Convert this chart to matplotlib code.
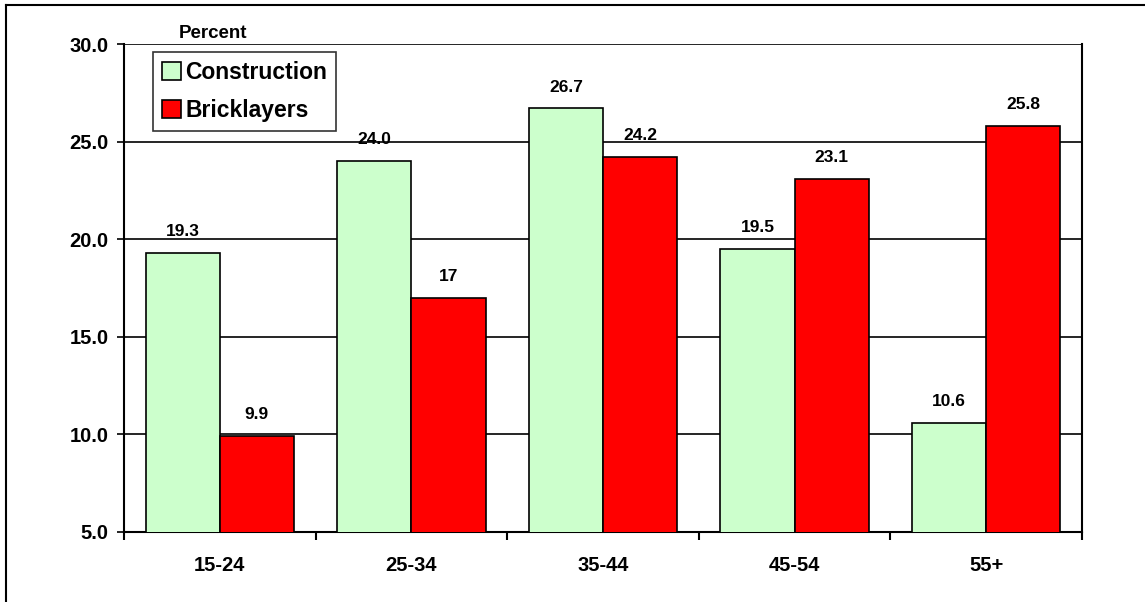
import numpy as np
import matplotlib.pyplot as plt
from matplotlib.lines import Line2D

plt.rcParams['font.family'] = ['Liberation Sans', 'DejaVu Sans']
plt.rcParams['font.weight'] = 'bold'

# Data
age_groups = ['15-24', '25-34', '35-44', '45-54', '55+']
construction = [19.3, 24.0, 26.7, 19.5, 10.6]
bricklayers = [9.9, 17, 24.2, 23.1, 25.8]
construction_labels = ['19.3', '24.0', '26.7', '19.5', '10.6']
bricklayer_labels = ['9.9', '17', '24.2', '23.1', '25.8']
y_ticks = [5.0, 10.0, 15.0, 20.0, 25.0, 30.0]

fig = plt.figure(figsize=(11.45, 6.02), dpi=100)
ax = fig.add_axes([0.1083, 0.1163, 0.8367, 0.8106])

# Outer chart border
fig.add_artist(Line2D([6/1145, 6/1145], [0, 1 - 5/602], transform=fig.transFigure,
                      color='black', lw=1.5))
fig.add_artist(Line2D([6/1145, 1], [1 - 5/602, 1 - 5/602], transform=fig.transFigure,
                      color='black', lw=1.5))

x = np.arange(len(age_groups))
w = 0.387
bars1 = ax.bar(x - w/2, construction, w, color='#CCFFCC', edgecolor='black',
               linewidth=1.2, label='Construction', zorder=3)
bars2 = ax.bar(x + w/2, bricklayers, w, color='#FF0000', edgecolor='black',
               linewidth=1.2, label='Bricklayers', zorder=3)

for b, t in zip(bars1, construction_labels):
    ax.annotate(t, (b.get_x() + b.get_width()/2, b.get_height()), xytext=(0, 10),
                textcoords='offset points', ha='center', va='bottom', fontsize=12.5,
                fontweight='bold')
for b, t in zip(bars2, bricklayer_labels):
    ax.annotate(t, (b.get_x() + b.get_width()/2, b.get_height()), xytext=(0, 10),
                textcoords='offset points', ha='center', va='bottom', fontsize=12.5,
                fontweight='bold')

ax.set_xlim(-0.5, len(age_groups) - 0.5)
ax.set_ylim(5, 30)
ax.set_yticks(y_ticks)
ax.set_yticklabels([f'{v:.1f}' for v in y_ticks], fontsize=14.5, fontweight='bold')
ax.yaxis.grid(True, color='black', lw=1.2, zorder=0)
ax.set_axisbelow(True)

# category ticks on boundaries
ax.set_xticks(x)
ax.set_xticklabels(age_groups, fontsize=14.5, fontweight='bold')
ax.tick_params(axis='x', length=0, pad=17)
ax.set_xticks(np.arange(-0.5, len(age_groups)), minor=True)
ax.tick_params(axis='x', which='minor', length=6, width=1.5, direction='out')
ax.tick_params(axis='y', length=5, width=1.2, direction='out', pad=6)

for s in ['left', 'bottom', 'right']:
    ax.spines[s].set_linewidth(1.5)
ax.spines['top'].set_visible(False)

ax.text(0.0575, 1.0123, 'Percent', transform=ax.transAxes, fontsize=13.5,
        fontweight='bold', va='baseline')

leg = ax.legend(loc='upper left', bbox_to_anchor=(0.0303, 0.9836), fontsize=16.5,
                frameon=True, fancybox=False, edgecolor='black', handlelength=0.8,
                handleheight=0.8, handletextpad=0.2, borderpad=0.4, labelspacing=0.65,
                borderaxespad=0)
leg.get_frame().set_linewidth(1.2)
for t in leg.get_texts():
    t.set_fontweight('bold')

fig.savefig('out.png', dpi=100)
